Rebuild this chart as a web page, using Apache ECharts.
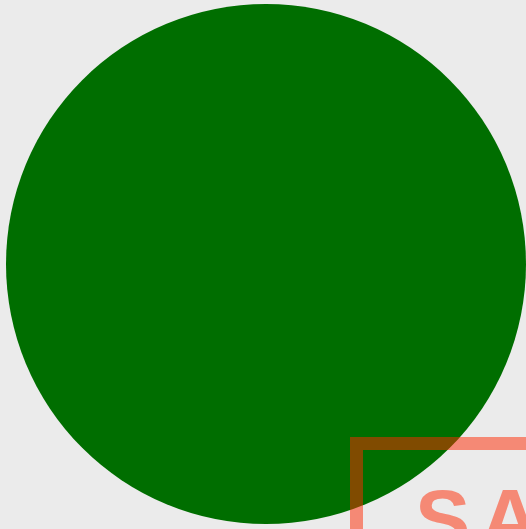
<!DOCTYPE html>
<html><head><meta charset="utf-8">
<script src="https://cdn.jsdelivr.net/npm/echarts@6/dist/echarts.min.js"></script>
<style>html,body{margin:0;padding:0;background:#ebebeb}#c{width:526px;height:529px}</style>
</head><body><div id="c"></div>
<script>
const xValues = [0];
const yValues = [0];
const stampLetters = ['S', 'AMPLE'];
const chart = echarts.init(document.getElementById('c'), null, {renderer:'canvas'});
const stampStyle = {fill:'rgba(255,40,0,0.5)', font:'bold 83px "Liberation Sans", Arial, sans-serif'};
chart.setOption({
  backgroundColor:'#ebebeb',
  animation:false,
  grid:{left:6, top:4, width:520, height:520},
  xAxis:{type:'value', min:-1, max:1, show:false},
  yAxis:{type:'value', min:-1, max:1, show:false},
  series:[{
    type:'scatter',
    data: xValues.map((x,i)=>[x, yValues[i]]),
    symbol:'circle',
    symbolSize:520,
    itemStyle:{color:'#006e00', opacity:1},
    silent:true,
    z:1
  }],
  graphic:[{
    type:'group', left:350, top:437, z:100, zlevel:0,
    children:[
      {type:'rect', z:100, shape:{x:6.5,y:6.5,width:400,height:200}, style:{fill:'none', stroke:'rgba(255,40,0,0.5)', lineWidth:13}},
      {type:'text', z:100, x:65, y:47, style:Object.assign({text:stampLetters[0]}, stampStyle)},
      {type:'text', z:100, x:130, y:47, style:Object.assign({text:stampLetters[1]}, stampStyle)}
    ]
  }]
});
</script></body></html>
